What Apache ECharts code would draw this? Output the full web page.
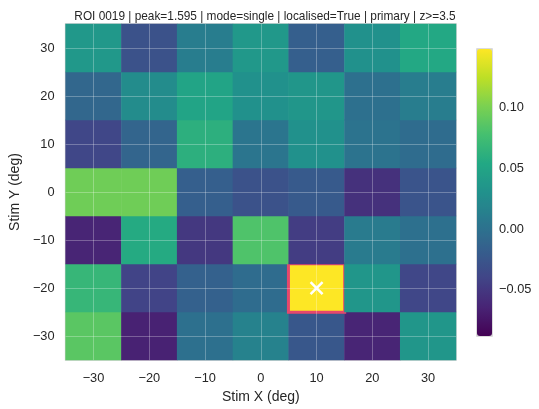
<!DOCTYPE html>
<html><head><meta charset="utf-8">
<script src="https://cdn.jsdelivr.net/npm/echarts@6/dist/echarts.min.js"></script>
<style>html,body{margin:0;padding:0;background:#fff}#c{width:539px;height:409px}</style>
</head><body><div id="c"></div>
<script>
// Tick labels / categories
const xTicks = [-30, -20, -10, 0, 10, 20, 30];
const yTicks = [-30, -20, -10, 0, 10, 20, 30];
// Response values per row (x = -30 ... 30)
const rowY30  = [0.037, -0.029, 0.011, 0.037, -0.017, 0.030, 0.054];
const rowY20  = [-0.010, 0.025, 0.049, 0.030, 0.035, -0.001, 0.011];
const rowY10  = [-0.038, -0.012, 0.061, 0.004, 0.030, 0.002, -0.005];
const rowY0   = [0.096, 0.096, -0.017, -0.029, -0.022, -0.055, -0.027];
const rowYm10 = [-0.064, 0.056, -0.050, 0.082, -0.046, 0.009, -0.001];
const rowYm20 = [0.068, -0.041, -0.015, -0.005, 0.148, 0.035, -0.038];
const rowYm30 = [0.087, -0.066, -0.001, 0.016, -0.024, -0.064, 0.035];
const rows = {"30": rowY30, "20": rowY20, "10": rowY10, "0": rowY0, "-10": rowYm10, "-20": rowYm20, "-30": rowYm30};
const peakX = 10, peakY = -20;
const colorMin = -0.088, colorMax = 0.148;
const cbarTicks = [-0.05, 0.00, 0.05, 0.10];
const titleText = 'ROI 0019 | peak=1.595 | mode=single | localised=True | primary | z>=3.5';
const viridis = ['#440154','#482475','#414487','#355f8d','#2a788e','#21918c','#22a884','#44bf70','#7ad151','#bddf26','#fde725'];

const fmtNum = v => String(v).replace('-', '\u2212');
const txt = '#262626';
const font = '"Liberation Sans", Arial, sans-serif';

const heatData = [];
yTicks.forEach((y, yi) => {
  rows[String(y)].forEach((v, xi) => {
    const item = {value: [xi, yi, v]};
    if (xTicks[xi] === peakX && y === peakY) {
      item.itemStyle = {borderColor: '#e5476d', borderWidth: 3};
    }
    heatData.push(item);
  });
});

const G = {left: 64, top: 24, width: 392, height: 338};
const CB = {left: 477, top: 49, width: 15, height: 287};

const chart = echarts.init(document.getElementById('c'), null, {renderer: 'canvas'});
chart.setOption({
  backgroundColor: '#fff',
  animation: false,
  title: {
    text: titleText, left: G.left + G.width / 2, top: 6, textAlign: 'center',
    textStyle: {fontFamily: font, fontSize: 11.85, fontWeight: 'normal', color: txt}
  },
  grid: [
    {left: G.left, top: G.top, width: G.width, height: G.height, show: true, borderColor: '#cfcfcf', borderWidth: 1.5, backgroundColor: 'transparent'},
    {left: CB.left, top: CB.top, width: CB.width, height: CB.height, show: true, borderColor: '#cfcfcf', borderWidth: 1.5, backgroundColor: 'transparent'}
  ],
  xAxis: [
    {type: 'category', gridIndex: 0, data: xTicks.map(fmtNum),
     name: 'Stim X (deg)', nameLocation: 'middle', nameGap: 29,
     nameTextStyle: {fontFamily: font, fontSize: 14, color: txt},
     axisLine: {show: false}, axisTick: {show: false}, splitLine: {show: false},
     axisLabel: {fontFamily: font, fontSize: 12.8, color: txt, margin: 12}},
    {type: 'value', gridIndex: 1, show: false}
  ],
  yAxis: [
    {type: 'category', gridIndex: 0, data: yTicks.map(fmtNum),
     name: 'Stim Y (deg)', nameLocation: 'middle', nameGap: 37, nameRotate: 90,
     nameTextStyle: {fontFamily: font, fontSize: 14, color: txt},
     axisLine: {show: false}, axisTick: {show: false}, splitLine: {show: false},
     axisLabel: {fontFamily: font, fontSize: 12.8, color: txt, margin: 11}},
    {type: 'value', gridIndex: 1, position: 'right', min: colorMin, max: colorMax,
     axisLine: {show: false}, splitLine: {show: false},
     axisTick: {show: true, length: 5, customValues: cbarTicks, lineStyle: {color: '#444', width: 1}},
     axisLabel: {fontFamily: font, fontSize: 12.8, color: txt, margin: 7, customValues: cbarTicks,
       formatter: v => (v < 0 ? '\u2212' : '') + Math.abs(v).toFixed(2)}}
  ],
  visualMap: {
    type: 'continuous', min: colorMin, max: colorMax, seriesIndex: 0, dimension: 2,
    left: CB.left, top: CB.top, itemWidth: CB.width, itemHeight: CB.height, padding: 0,
    calculable: false, hoverLink: false, showLabel: false,
    inRange: {color: viridis}
  },
  series: [
    {type: 'heatmap', xAxisIndex: 0, yAxisIndex: 0, data: heatData, silent: true,
     markLine: {
       silent: true, symbol: 'none', label: {show: false},
       lineStyle: {color: 'rgba(255,255,255,0.28)', width: 1, type: 'solid'},
       data: xTicks.map((_, i) => ({xAxis: i})).concat(yTicks.map((_, i) => ({yAxis: i})))
     }},
    {type: 'scatter', xAxisIndex: 0, yAxisIndex: 0, silent: true, z: 5,
     data: [[xTicks.indexOf(peakX), yTicks.indexOf(peakY)]],
     symbol: 'path://M0,0L10,10M10,0L0,10', symbolSize: 12,
     itemStyle: {color: 'rgba(0,0,0,0)', borderColor: '#ffffff', borderWidth: 2.5, opacity: 1}}
  ]
});
</script>
</body></html>
